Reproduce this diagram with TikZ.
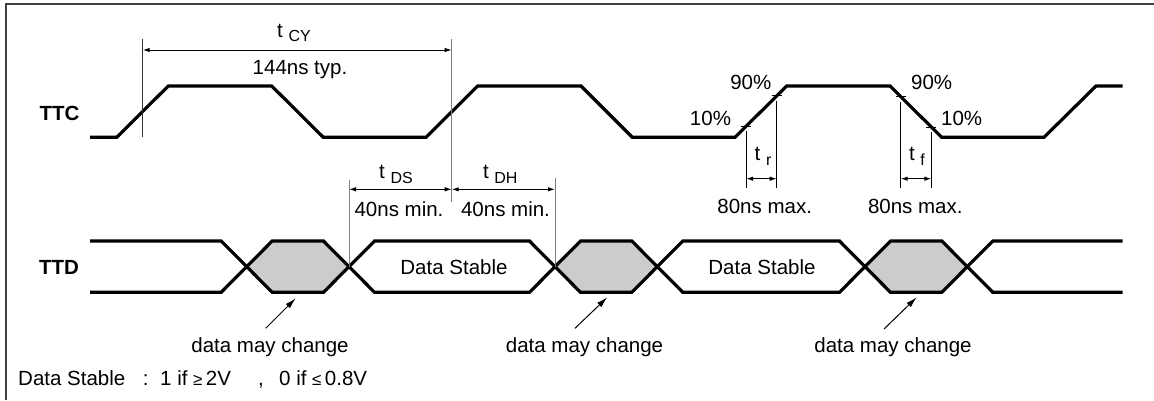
\documentclass[tikz,border=0pt]{standalone}
\usepackage{fontspec}
\setmainfont{Liberation Sans}
\usetikzlibrary{arrows.meta}
\newcommand\tsb[1]{t\ \raisebox{-4.5pt}{\fontsize{16}{16}\selectfont #1}}
\begin{document}
\begin{tikzpicture}[x=1pt,y=-1pt,
  wave/.style={line width=3.2pt, line join=miter},
  thinline/.style={line width=1pt},
  greyline/.style={line width=1pt, black!50},
  dim/.style={line width=1pt, {Latex[length=7pt,width=4.5pt]}-{Latex[length=7pt,width=4.5pt]}},
  pointer/.style={line width=1pt, -{Latex[length=11pt,width=6pt]}},
  lbl/.style={inner sep=0pt, font=\fontsize{20.5}{24}\selectfont, anchor=base},
  sig/.style={inner sep=0pt, font=\fontsize{20.5}{24}\selectfont\bfseries},
  hexfill/.style={fill=black!20},
  tick/.style={line width=1pt}
  ]
\useasboundingbox (0,0) rectangle (1154,400);
\fill[white] (0,0) rectangle (1154,400);
% frame
\draw[line width=2pt, black!75] (6,400) -- (6,4) -- (1154,4);

% ---------- TTC ----------
\def\L{137.3}\def\H{86}
\draw[wave] (90,\L) -- (116.7,\L) -- (168.3,\H) -- (271.7,\H) -- (323.3,\L)
  -- (426,\L) -- (477.7,\H) -- (581,\H) -- (632.3,\L) -- (735,\L) -- (786.7,\H)
  -- (890,\H) -- (941.7,\L) -- (1044,\L) -- (1096,\H) -- (1122.7,\H);
\node[sig] (ttc) at (59.5,113.3) {TTC};

% ---------- TTD ----------
\def\Hd{241}\def\Ld{292.3}\def\Md{266.7}\def\w{25.5}
\foreach \a/\b in {246.7/349, 555/657.3, 865/967.3}{
  \fill[hexfill] (\a,\Md) -- (\a+\w,\Hd) -- (\b-\w,\Hd) -- (\b,\Md) -- (\b-\w,\Ld) -- (\a+\w,\Ld) -- cycle;
}
\draw[wave] (90,\Hd) -- (246.7-\w,\Hd) -- (246.7+\w,\Ld) -- (349-\w,\Ld) -- (349+\w,\Hd)
  -- (555-\w,\Hd) -- (555+\w,\Ld) -- (657.3-\w,\Ld) -- (657.3+\w,\Hd)
  -- (865-\w,\Hd) -- (865+\w,\Ld) -- (967.3-\w,\Ld) -- (967.3+\w,\Hd) -- (1122.7,\Hd);
\draw[wave] (90,\Ld) -- (246.7-\w,\Ld) -- (246.7+\w,\Hd) -- (349-\w,\Hd) -- (349+\w,\Ld)
  -- (555-\w,\Ld) -- (555+\w,\Hd) -- (657.3-\w,\Hd) -- (657.3+\w,\Ld)
  -- (865-\w,\Ld) -- (865+\w,\Hd) -- (967.3-\w,\Hd) -- (967.3+\w,\Ld) -- (1122.7,\Ld);
\node[sig] (ttd) at (59,267.7) {TTD};
\node[inner sep=0pt, font=\fontsize{20.5}{24}\selectfont] (ds1) at (454,266.7) {Data Stable};
\node[inner sep=0pt, font=\fontsize{20.5}{24}\selectfont] (ds2) at (762,266.7) {Data Stable};

% ---------- t_CY ----------
\coordinate (cyLt) at (142.7,39); \coordinate (cyLb) at (142.7,137.3);
\coordinate (cyRt) at (451.7,39); \coordinate (cyRb) at (451.7,202);
\draw[thinline, black!80] (cyLt) -- (cyLb);
\draw[greyline] (cyRt) -- (cyRb);
\coordinate (cyA) at (142.7,50); \coordinate (cyB) at (451.7,50);
\draw[dim] (cyA) -- (cyB);
\node[lbl] (tcy) at (294,37.3) {\tsb{CY}};
\node[lbl] (typ) at (300,74) {144ns typ.};

% ---------- t_DS / t_DH ----------
\coordinate (dsT) at (349,180); \coordinate (dsB) at (349,\Md);
\coordinate (dhT) at (555,178); \coordinate (dhB) at (555,\Md);
\draw[greyline] (dsT) -- (dsB);
\draw[greyline] (dhT) -- (dhB);
\coordinate (dsA) at (349,189.3); \coordinate (dsM) at (451.7,189.3); \coordinate (dhA) at (555,189.3);
\draw[dim] (dsA) -- (dsM);
\draw[dim] (dsM) -- (dhA);
\node[lbl] (tds) at (396,178.5) {\tsb{DS}};
\node[lbl] (tdh) at (500.3,178.5) {\tsb{DH}};
\node[lbl] (mds) at (399,216.7) {40ns min.};
\node[lbl] (mdh) at (505.5,216.7) {40ns min.};

% ---------- t_r ----------
\coordinate (r10) at (746.2,126.1); \coordinate (r90) at (776.7,95.6);
\coordinate (r10b) at (746.2,188.3); \coordinate (r90b) at (776.7,188.3);
\draw[thinline] ([yshift=-5pt]r10) -- (r10b);
\draw[thinline] ([yshift=-5pt]r90) -- (r90b);
\draw[tick] ([xshift=-5pt]r10) -- ([xshift=5pt]r10);
\draw[tick] ([xshift=-5pt]r90) -- ([xshift=5pt]r90);
\coordinate (trA) at (746.2,178.7); \coordinate (trB) at (776.7,178.7);
\draw[dim] (trA) -- (trB);
\node[lbl] (p10a) at (710.5,125) {10\%};
\node[lbl] (p90a) at (750.8,89.3) {90\%};
\node[lbl] (tr) at (763,160.7) {\tsb{r}};
\node[lbl] (mr) at (764.7,213.3) {80ns max.};

% ---------- t_f ----------
\coordinate (f90) at (900.7,96.7); \coordinate (f10) at (931.3,127.3);
\coordinate (f90b) at (900.7,188.3); \coordinate (f10b) at (931.3,188.3);
\draw[thinline] ([yshift=-5pt]f90) -- (f90b);
\draw[thinline] ([yshift=-5pt]f10) -- (f10b);
\draw[tick] ([xshift=-5pt]f90) -- ([xshift=5pt]f90);
\draw[tick] ([xshift=-5pt]f10) -- ([xshift=5pt]f10);
\coordinate (tfA) at (900.7,178.7); \coordinate (tfB) at (931.3,178.7);
\draw[dim] (tfA) -- (tfB);
\node[lbl] (p90b) at (931.7,89.3) {90\%};
\node[lbl] (p10b) at (961.7,125) {10\%};
\node[lbl] (tf) at (917,160.7) {\tsb{f}};
\node[lbl] (mf) at (915.3,213.3) {80ns max.};

% ---------- data may change ----------
\node[lbl] (dmc1) at (270,352.7) {data may change};
\node[lbl] (dmc2) at (584.5,352.7) {data may change};
\node[lbl] (dmc3) at (893,352.7) {data may change};
\coordinate (a1s) at (265.7,328.3); \coordinate (a1e) at (295.7,298.3);
\coordinate (a2s) at (575,328.3);   \coordinate (a2e) at (607.3,297.3);
\coordinate (a3s) at (884,329);     \coordinate (a3e) at (916.7,297.3);
\draw[pointer] (a1s) -- (a1e);
\draw[pointer] (a2s) -- (a2e);
\draw[pointer] (a3s) -- (a3e);

% ---------- legend ----------
\node[lbl, anchor=base west] (leg1) at (18,385.7) {Data Stable};
\node[lbl] (leg2) at (145.7,385.7) {:};
\node[lbl, anchor=base west] (leg3) at (160,385.7) {1 if {\fontsize{17}{20}\selectfont ≥}\,2V};
\node[lbl] (leg4) at (261,385.7) {,};
\node[lbl, anchor=base west] (leg5) at (279,385.7) {0 if {\fontsize{17}{20}\selectfont ≤}\,0.8V};
\end{tikzpicture}
\end{document}
